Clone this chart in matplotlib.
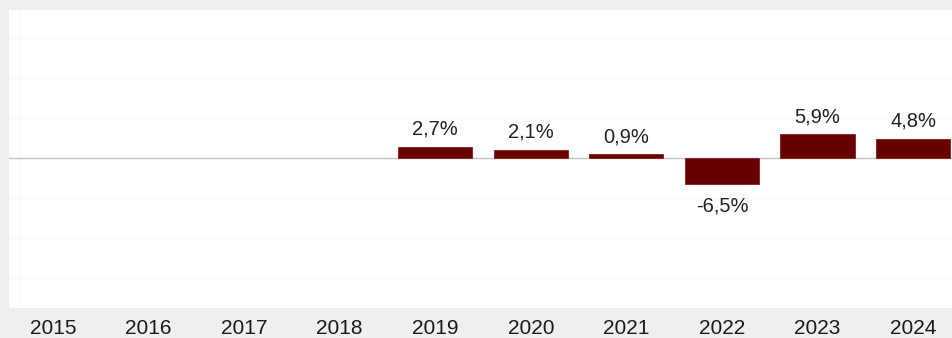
import numpy as np
import matplotlib
matplotlib.use("Agg")
import matplotlib.pyplot as plt

# data
years = ['2015', '2016', '2017', '2018', '2019', '2020', '2021', '2022', '2023', '2024']
growth = [np.nan, np.nan, np.nan, np.nan, 2.7, 2.1, 0.9, -6.5, 5.9, 4.8]
labels = ['', '', '', '', '2,7%', '2,1%', '0,9%', '-6,5%', '5,9%', '4,8%']

plt.rcParams['font.family'] = ['Liberation Sans', 'DejaVu Sans']

W, H = 952, 338
fig = plt.figure(figsize=(W / 100, H / 100), dpi=100, facecolor='#efefef')

# plot area: white box from x=9px, y=10px..308px, running off the right edge
ax = fig.add_axes([9 / W, (H - 308) / H, 948 / W, 298 / H])
ax.set_facecolor('white')

x = np.arange(len(years))
ax.set_xlim(-0.46, len(years) - 0.54)
ax.set_ylim(-37.5, 37)

# faint horizontal grid every 10 %
for g in [-30, -20, -10, 10, 20, 30]:
    ax.axhline(g, color='#f7f7f7', lw=1, zorder=0)
ax.axhline(0, color='#c4c4c4', lw=1, zorder=1)
ax.axvline(-0.34, color='#f8f8f8', lw=1, zorder=0)

vals = np.array(growth, dtype=float)
has = ~np.isnan(vals)
ax.bar(x[has], vals[has], width=0.775, color='#690000', edgecolor='#8a1a1a',
       linewidth=0.6, zorder=2)

for xi, v, lab in zip(x, growth, labels):
    if not lab:
        continue
    if v >= 0:
        ax.annotate(lab, (xi, v), xytext=(0, 6), textcoords='offset points',
                    ha='center', va='bottom', fontsize=14.5, color='#222222')
    else:
        ax.annotate(lab, (xi, v), xytext=(0, -9), textcoords='offset points',
                    ha='center', va='top', fontsize=14.5, color='#222222')

ax.set_xticks(x)
ax.set_xticklabels(years, fontsize=15, color='#1a1a1a')
ax.tick_params(axis='x', length=0, pad=8)
ax.set_yticks([])
for s in ax.spines.values():
    s.set_visible(False)

fig.savefig('out.png', dpi=100, facecolor=fig.get_facecolor())
